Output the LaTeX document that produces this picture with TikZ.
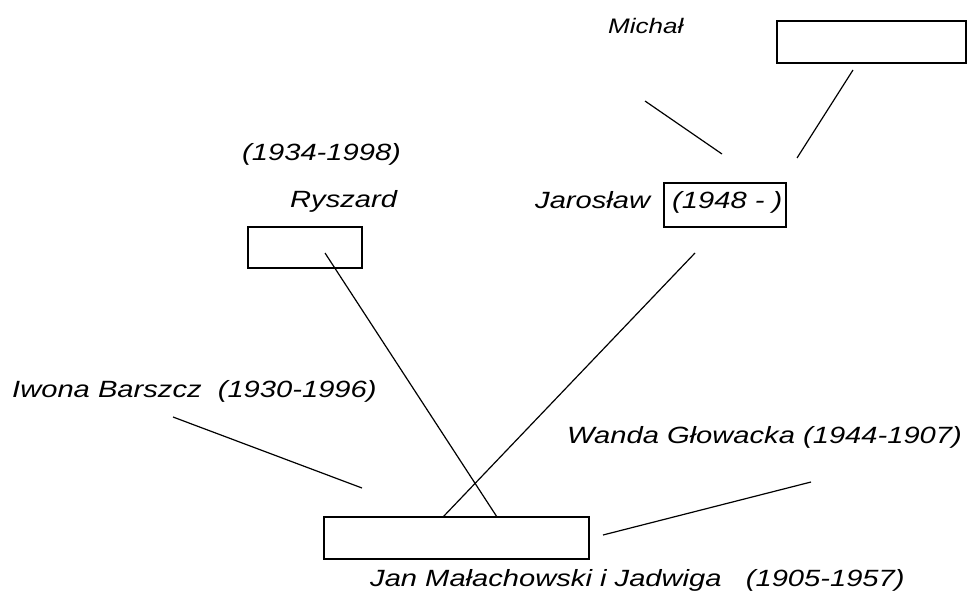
\documentclass[tikz,border=0pt]{standalone}
\usepackage{fontspec}
\setmainfont[FakeStretch=1.24]{Liberation Sans}
\begin{document}
\begin{tikzpicture}[x=1pt,y=-1pt,
  person/.style={draw=black,line width=1.2pt,fill=white},
  link/.style={draw=black,line width=1.2pt},
  lbl/.style={anchor=base west,inner sep=0pt,font=\itshape\fontsize{23.5}{28}\selectfont},
  smalllbl/.style={anchor=base west,inner sep=0pt,font=\itshape\fontsize{21}{25}\selectfont}]
\useasboundingbox (0,0) rectangle (967,592);
% boxes
\path[person] (777,21) rectangle (966,63);
\path[person] (664,183) rectangle (786,227);
\path[person] (248,227) rectangle (362,268);
\path[person] (324,517) rectangle (589,559);
% labels
\node[smalllbl] (michal) at (608,33) {Michał};
\node[lbl] (ryszyears) at (242,160) {(1934-1998)};
\node[lbl] (ryszard) at (290,207) {Ryszard};
\node[lbl] (jaroslaw) at (535,208) {Jarosław};
\node[lbl] (jaryears) at (672,208) {(1948 - )};
\node[lbl] (iwona) at (12,397) {Iwona Barszcz\ \ (1930-1996)};
\node[lbl] (wanda) at (567,443) {Wanda Głowacka (1944-1907)};
\node[lbl] (jan) at (370,586) {Jan Małachowski i Jadwiga\ \ \ (1905-1957)};
% connector end points
\coordinate (m1) at (853,70);
\coordinate (m2) at (797,158);
\coordinate (j1) at (645,101);
\coordinate (j2) at (722,154);
\coordinate (r1) at (325,253);
\coordinate (r2) at (497,517);
\coordinate (ja1) at (695,253);
\coordinate (ja2) at (443,517);
\coordinate (i1) at (173,417);
\coordinate (i2) at (362,488);
\coordinate (w1) at (603,535);
\coordinate (w2) at (811,482);
% connectors
\draw[link] (m1) -- (m2);
\draw[link] (j1) -- (j2);
\draw[link] (r1) -- (r2);
\draw[link] (ja1) -- (ja2);
\draw[link] (i1) -- (i2);
\draw[link] (w1) -- (w2);
\end{tikzpicture}
\end{document}
